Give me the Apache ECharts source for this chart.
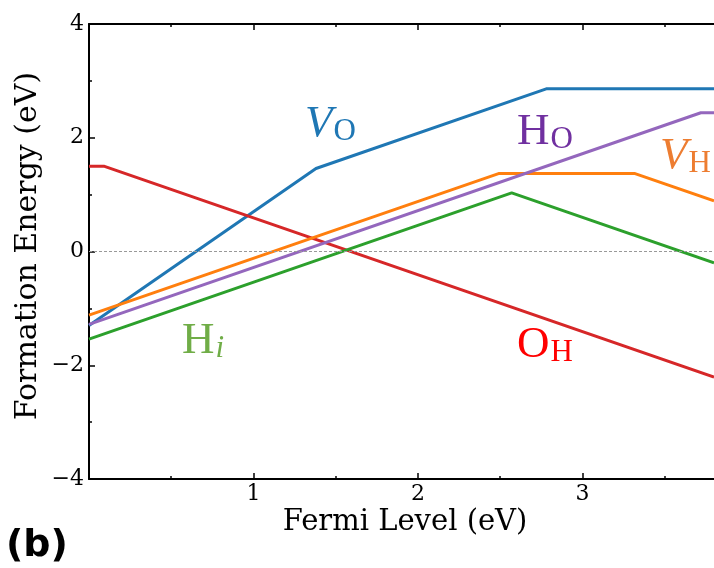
<!DOCTYPE html>
<html lang="en">
<head>
	<meta charset="UTF-8">
	<title>Formation Energy</title>
	<script src="https://cdn.jsdelivr.net/npm/echarts@6/dist/echarts.min.js"></script>
	<style>
		html,body{margin:0;padding:0;background:#fff;}
		#box{width:714px;height:568px;}
	</style>
</head>
<body>
<div id="box"></div>
<script>
	// defect formation energies vs Fermi level, [x, y] pairs
	let vO=[[0,-1.3],[1.38,1.46],[2.78,2.86],[3.8,2.86]];
	let oH=[[0,1.5],[0.09,1.5],[3.8,-2.21]];
	let vH=[[0,-1.12],[2.49,1.37],[3.32,1.37],[3.8,0.89]];
	let hO=[[0,-1.28],[3.72,2.44],[3.8,2.44]];
	let hI=[[0,-1.54],[2.57,1.03],[3.8,-0.2]];
	let xTicks=[1,2,3];

	let serif='DejaVu Serif';
	let labFont='Liberation Serif';

	function line(name,data,color){
		return {name:name,type:'line',data:data,symbol:'none',
			lineStyle:{color:color,width:3},z:3,animation:false};
	}
	function tag(left,top,main,sub,color,italicMain,italicSub){
		return {type:'text',left:left,top:top,
			style:{text:'{a|'+main+'}{b|'+sub+'}',
				rich:{
					a:{fontFamily:labFont,fontSize:45,fill:color,fontStyle:italicMain?'italic':'normal',verticalAlign:'bottom'},
					b:{fontFamily:labFont,fontSize:31,fill:color,fontStyle:italicSub?'italic':'normal',verticalAlign:'bottom',padding:[0,0,0,1]}
				}}};
	}

	let series=[
		line('VO',vO,'#1f77b4'),
		line('OH',oH,'#d62728'),
		line('VH',vH,'#ff7f0e'),
		line('HO',hO,'#9467bd'),
		line('Hi',hI,'#2ca02c')
	];
	series[0].markLine={silent:true,symbol:'none',label:{show:false},
		lineStyle:{color:'#999',type:[3,2],width:1},data:[{yAxis:0}]};

	let tickStyle={color:'#000',width:1.5};
	let options={
		animation:false,
		grid:{left:89,top:24,right:0,bottom:89},
		xAxis:[{
			type:'value',min:0,max:3.8,interval:1,
			axisLine:{onZero:false,lineStyle:{color:'#000',width:2}},
			axisTick:{inside:true,length:6,lineStyle:tickStyle,customValues:xTicks},
			minorTick:{show:true,splitNumber:2,length:3,lineStyle:tickStyle},
			axisLabel:{color:'#000',fontFamily:serif,fontSize:22,margin:4,customValues:xTicks},
			splitLine:{show:false}
		},{
			type:'value',position:'top',min:0,max:3.8,interval:1,
			axisLine:{show:true,onZero:false,lineStyle:{color:'#000',width:2}},
			axisTick:{inside:true,length:6,lineStyle:tickStyle,customValues:xTicks},
			minorTick:{show:true,splitNumber:2,length:3,lineStyle:tickStyle},
			axisLabel:{show:false},splitLine:{show:false}
		}],
		yAxis:{
			type:'value',min:-4,max:4,interval:2,
			axisLine:{show:true,onZero:false,lineStyle:{color:'#000',width:2}},
			axisTick:{inside:true,length:6,lineStyle:tickStyle},
			minorTick:{show:true,splitNumber:2,length:3,lineStyle:tickStyle},
			axisLabel:{color:'#000',fontFamily:serif,fontSize:22,margin:5,
				formatter:v=>v<0?'\u2212'+(-v):''+v},
			splitLine:{show:false}
		},
		series:series,
		graphic:[
			{type:'text',x:405,y:522,
				style:{text:'Fermi Level (eV)',fontFamily:serif,fontSize:29,fill:'#000',align:'center',verticalAlign:'middle'}},
			{type:'text',x:28,y:246,rotation:Math.PI/2,
				style:{text:'Formation Energy (eV)',fontFamily:serif,fontSize:30,fill:'#000',align:'center',verticalAlign:'middle'}},
			{type:'text',left:6,top:527,style:{text:'(b)',fontFamily:'DejaVu Sans',fontWeight:'bold',fontSize:38,fill:'#000'}},
			tag(305,102,'V','O','#1f77b4',true,false),
			tag(517,110,'H','O','#7030a0',false,false),
			tag(660,134,'V','H','#ed7d31',true,false),
			tag(182,319,'H','i','#70ad47',false,true),
			tag(517,323,'O','H','#ff0000',false,false)
		]
	};
	let charts=echarts.init(document.getElementById('box'));
	charts.setOption(options);
</script>
</body>
</html>
